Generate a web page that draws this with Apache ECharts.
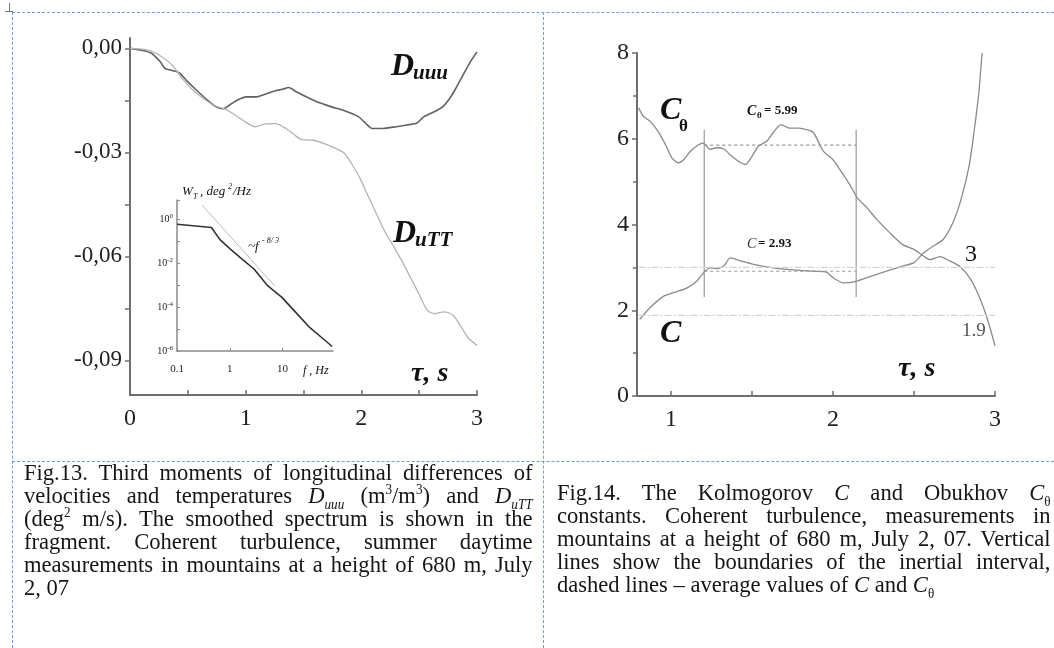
<!DOCTYPE html>
<html>
<head>
<meta charset="utf-8">
<script src="https://cdn.jsdelivr.net/npm/echarts@6.0.0/dist/echarts.min.js"></script>
<style>
  body { margin: 0; background: #fff; }
  #main { position: absolute; left: 0; top: 0; width: 1054px; height: 648px; }
  .dash-h { position: absolute; height: 0; border-top: 1px dashed #6b9fdc; }
  .dash-v { position: absolute; width: 0; border-left: 1px dashed #6b9fdc; }
  .mark { position: absolute; background: #777; }
  .cap {
    position: absolute;
    font-family: "Liberation Serif", serif;
    font-size: 24px;
    line-height: 23px;
    color: #151515;
    transform: scaleX(0.94);
    transform-origin: 0 0;
  }
  .cap .ln { text-align: justify; text-align-last: justify; }
  .cap .last { text-align: left; text-align-last: left; }
  .cap sub, .cap sup { font-size: 14px; line-height: 0; }
</style>
</head>
<body>
<div id="main"></div>

<div class="dash-h" style="left:12px;top:12px;width:1042px"></div>
<div class="dash-v" style="left:12px;top:12px;height:636px"></div>
<div class="dash-v" style="left:543px;top:12px;height:636px"></div>
<div class="dash-h" style="left:12px;top:461px;width:1042px"></div>
<div class="mark" style="left:9px;top:3px;width:1px;height:9px"></div>
<div class="mark" style="left:5px;top:11px;width:8px;height:1px"></div>

<div class="cap" style="left:24px;top:461px;width:541px">
  <div class="ln">Fig.13. Third moments of longitudinal differences of</div>
  <div class="ln">velocities and temperatures <i>D<sub>uuu</sub></i> (m<sup>3</sup>/m<sup>3</sup>) and <i>D<sub>uTT</sub></i></div>
  <div class="ln">(deg<sup>2</sup> m/s). The smoothed spectrum is shown in the</div>
  <div class="ln">fragment. Coherent turbulence, summer daytime</div>
  <div class="ln">measurements in mountains at a height of 680 m, July</div>
  <div class="ln last">2, 07</div>
</div>

<div class="cap" style="left:557px;top:481px;width:525px">
  <div class="ln">Fig.14. The Kolmogorov <i>C</i> and Obukhov <i>C</i><sub>θ</sub></div>
  <div class="ln">constants. Coherent turbulence, measurements in</div>
  <div class="ln">mountains at a height of 680 m, July 2, 07. Vertical</div>
  <div class="ln">lines show the boundaries of the inertial interval,</div>
  <div class="ln last">dashed lines – average values of <i>C</i> and <i>C</i><sub>θ</sub></div>
</div>

<script>
// Fig.13 — third moments vs tau
const tauUuu = [0, 0.095, 0.185, 0.26, 0.304, 0.364, 0.424, 0.498, 0.573, 0.662, 0.737, 0.805, 0.871, 0.93, 1.005, 1.095, 1.169, 1.259, 1.318, 1.372, 1.437, 1.527, 1.616, 1.736, 1.855, 1.974, 2.034, 2.094, 2.183, 2.302, 2.392, 2.481, 2.541, 2.63, 2.705, 2.765, 2.824, 2.884, 2.944, 3.0];
const dUuu = [0, -0.0005, -0.0014, -0.0038, -0.0058, -0.0064, -0.007, -0.0096, -0.012, -0.0147, -0.0167, -0.0174, -0.0161, -0.0149, -0.014, -0.014, -0.0132, -0.0122, -0.0118, -0.0113, -0.0125, -0.014, -0.0154, -0.0168, -0.018, -0.0197, -0.0215, -0.0231, -0.0231, -0.0226, -0.0221, -0.0215, -0.0197, -0.0183, -0.0168, -0.0144, -0.0111, -0.0074, -0.0038, -0.001];
const tauUtt = [0, 0.125, 0.2, 0.274, 0.364, 0.453, 0.543, 0.632, 0.722, 0.841, 0.93, 1.02, 1.08, 1.169, 1.259, 1.348, 1.423, 1.482, 1.587, 1.691, 1.78, 1.855, 1.915, 1.989, 2.049, 2.123, 2.198, 2.273, 2.347, 2.422, 2.496, 2.571, 2.63, 2.72, 2.794, 2.854, 2.929, 3.0];
const dUtt = [0, -0.0003, -0.001, -0.0024, -0.0048, -0.0087, -0.012, -0.0144, -0.0164, -0.0178, -0.0197, -0.0217, -0.0226, -0.0218, -0.0217, -0.0231, -0.025, -0.0263, -0.0265, -0.0276, -0.0289, -0.0303, -0.0332, -0.0375, -0.0419, -0.0472, -0.0525, -0.0568, -0.0611, -0.0659, -0.0707, -0.0756, -0.0765, -0.076, -0.077, -0.0799, -0.0837, -0.0857];
const leftYTicks = [0, -0.03, -0.06, -0.09];
const leftYMinor = [0, -0.015, -0.03, -0.045, -0.06, -0.075, -0.09];
const leftXTicks = [0, 1, 2, 3];
const leftXMinor = [0, 0.5, 1, 1.5, 2, 2.5, 3];

// inset — smoothed temperature spectrum
const specF = [0.1, 0.45, 0.65, 1.0, 1.58, 2.9, 5.2, 6.5, 9.6, 17.4, 31.6, 57, 87];
const specW = [0.58, 0.41, 0.115, 0.045, 0.0174, 0.0052, 0.00093, 0.0006, 0.00028, 0.00006, 0.0000126, 0.0000038, 0.0000016];
const slopeF = [0.3, 7.1];
const slopeW = [4.2, 0.0009];

// Fig.14 — Kolmogorov and Obukhov constants
const tauCt = [0.8, 0.83, 0.87, 0.92, 0.97, 1.006, 1.047, 1.078, 1.12, 1.17, 1.2, 1.24, 1.28, 1.325, 1.376, 1.43, 1.46, 1.5, 1.54, 1.59, 1.63, 1.68, 1.73, 1.79, 1.84, 1.88, 1.94, 2.0, 2.05, 2.11, 2.15, 2.21, 2.27, 2.35, 2.43, 2.5, 2.56, 2.6, 2.66, 2.72, 2.78, 2.85, 2.91, 2.96, 3.0];
const cTheta = [6.72, 6.52, 6.41, 6.17, 5.83, 5.55, 5.44, 5.51, 5.71, 5.86, 5.9, 5.75, 5.79, 5.76, 5.59, 5.44, 5.4, 5.59, 5.83, 5.94, 6.14, 6.33, 6.25, 6.25, 6.21, 6.14, 5.71, 5.51, 5.24, 4.89, 4.62, 4.39, 4.12, 3.81, 3.53, 3.42, 3.26, 3.18, 3.25, 3.15, 3.03, 2.72, 2.25, 1.71, 1.17];
const tauC = [0.807, 0.87, 0.955, 1.016, 1.1, 1.16, 1.2, 1.24, 1.28, 1.325, 1.366, 1.43, 1.51, 1.63, 1.76, 1.88, 1.96, 2.0, 2.065, 2.13, 2.21, 2.33, 2.43, 2.5, 2.56, 2.62, 2.68, 2.74, 2.79, 2.84, 2.87, 2.9, 2.92];
const cKol = [1.79, 2.06, 2.33, 2.41, 2.52, 2.68, 2.87, 2.99, 2.97, 3.03, 3.22, 3.15, 3.07, 2.99, 2.94, 2.91, 2.89, 2.76, 2.64, 2.66, 2.76, 2.91, 3.03, 3.11, 3.34, 3.5, 3.65, 4.04, 4.58, 5.36, 6.14, 7.07, 8.0];
const boundTau = [1.205, 2.143];        // inertial interval
const boundSpan = [2.31, 6.21];
const meanLevels = [5.85, 2.91];         // drawn averages C_theta, C
const refLevels = [3.0, 1.88];
const refSpan = [0.8, 3.0];
const rightXTicks = [1, 2, 3];
const rightXMinor = [1, 1.5, 2, 2.5, 3];

const zip = (xs, ys) => xs.map((x, i) => [x, ys[i]]);
const serif = '"Liberation Serif", "Times New Roman", serif';
const axisGray = '#6e6e6e';

function mainAxis(extra) {
    return Object.assign({
        axisLine: { onZero: false, lineStyle: { color: axisGray, width: 2 } },
        axisTick: { lineStyle: { color: axisGray, width: 1.5 }, length: 5 },
        splitLine: { show: false },
        axisLabel: { color: '#222', fontFamily: serif, fontSize: 24 }
    }, extra);
}

function txt(x, y, text, font, color) {
    return {
        type: 'text', x: x, y: y, z: 100,
        style: { text: text, font: font, fill: color || '#111', verticalAlign: 'middle' }
    };
}

const chart = echarts.init(document.getElementById('main'), null, { renderer: 'canvas' });

const option = {
    animation: false,
    grid: [
        { left: 130, top: 38, width: 347, height: 357 },
        { left: 177, top: 200, width: 156, height: 151 },
        { left: 637, top: 53, width: 358, height: 343 }
    ],
    xAxis: [
        mainAxis({
            gridIndex: 0, type: 'value', min: 0, max: 3,
            axisTick: { inside: true, length: 5, lineStyle: { color: axisGray, width: 1.5 }, customValues: leftXMinor },
            axisLabel: { color: '#222', fontFamily: serif, fontSize: 24, margin: 12, customValues: leftXTicks }
        }),
        {
            gridIndex: 1, type: 'log', min: 0.1, max: 90, logBase: 10,
            axisLine: { onZero: false, lineStyle: { color: '#8a8a8a', width: 1.5 } },
            axisTick: { inside: true, length: 3, lineStyle: { color: '#8a8a8a' } },
            splitLine: { show: false },
            axisLabel: {
                showMaxLabel: false, fontFamily: serif, fontSize: 11, color: '#222', margin: 13,
                formatter: v => (v < 0.5 ? '0.1' : String(Math.round(v)))
            }
        },
        mainAxis({
            gridIndex: 2, type: 'value', min: 0.79, max: 3,
            axisTick: { inside: true, length: 5, lineStyle: { color: axisGray, width: 1.5 }, customValues: rightXMinor },
            axisLabel: { color: '#222', fontFamily: serif, fontSize: 24, margin: 12, customValues: rightXTicks }
        })
    ],
    yAxis: [
        mainAxis({
            gridIndex: 0, type: 'value', min: -0.1, max: 0.003,
            axisTick: { length: 5, lineStyle: { color: axisGray, width: 1.5 }, customValues: leftYMinor },
            axisLabel: {
                color: '#222', fontFamily: serif, fontSize: 23, margin: 8, customValues: leftYTicks,
                formatter: v => v.toFixed(2).replace('.', ',')
            }
        }),
        {
            gridIndex: 1, type: 'log', min: 0.000001, max: 7.3, logBase: 10,
            axisLine: { onZero: false, lineStyle: { color: '#8a8a8a', width: 1.5 } },
            axisTick: { inside: true, length: 3, lineStyle: { color: '#8a8a8a' } },
            splitLine: { show: false },
            axisLabel: {
                fontFamily: serif, color: '#222', margin: 4,
                formatter: v => {
                    const e = Math.log10(v);
                    const r = Math.round(e);
                    if (Math.abs(e - r) > 0.01 || r % 2 !== 0 || r > 0) return '';
                    return '{b|10}{s|' + r + '}';
                },
                rich: {
                    b: { fontFamily: serif, fontSize: 10, color: '#222' },
                    s: { fontFamily: serif, fontSize: 7, color: '#222', verticalAlign: 'top', padding: [0, 0, 6, 0] }
                }
            }
        },
        mainAxis({
            gridIndex: 2, type: 'value', min: 0, max: 8, interval: 2,
            axisTick: { length: 5, lineStyle: { color: axisGray, width: 1.5 } },
            minorTick: { show: true, splitNumber: 2, length: 4, lineStyle: { color: axisGray, width: 1.5 } },
            axisLabel: { color: '#222', fontFamily: serif, fontSize: 24, margin: 8 }
        })
    ],
    series: [
        {
            name: 'D_uuu', type: 'line', xAxisIndex: 0, yAxisIndex: 0,
            data: zip(tauUuu, dUuu), showSymbol: false, smooth: 0.25,
            lineStyle: { color: '#626262', width: 1.6 }
        },
        {
            name: 'D_uTT', type: 'line', xAxisIndex: 0, yAxisIndex: 0,
            data: zip(tauUtt, dUtt), showSymbol: false, smooth: 0.25,
            lineStyle: { color: '#b4b4b4', width: 1.3 }
        },
        {
            name: 'spectrum', type: 'line', xAxisIndex: 1, yAxisIndex: 1,
            data: zip(specF, specW), showSymbol: false,
            lineStyle: { color: '#333', width: 1.6 }
        },
        {
            name: 'f^-8/3', type: 'line', xAxisIndex: 1, yAxisIndex: 1,
            data: zip(slopeF, slopeW), showSymbol: false,
            lineStyle: { color: '#bbb', width: 1 }
        },
        {
            name: 'C_theta', type: 'line', xAxisIndex: 2, yAxisIndex: 2,
            data: zip(tauCt, cTheta), showSymbol: false, smooth: 0.25,
            lineStyle: { color: '#8a8a8a', width: 1.3 }
        },
        {
            name: 'C', type: 'line', xAxisIndex: 2, yAxisIndex: 2,
            data: zip(tauC, cKol), showSymbol: false, smooth: 0.25,
            lineStyle: { color: '#8a8a8a', width: 1.3 }
        },
        ...boundTau.map((t, i) => ({
            name: 'bound' + i, type: 'line', xAxisIndex: 2, yAxisIndex: 2,
            data: boundSpan.map(v => [t, v]), showSymbol: false,
            lineStyle: { color: '#9a9a9a', width: 1.2 }
        })),
        ...meanLevels.map((m, i) => ({
            name: 'mean' + i, type: 'line', xAxisIndex: 2, yAxisIndex: 2,
            data: boundTau.map(t => [t, m]), showSymbol: false,
            lineStyle: { color: '#999', width: 1.2, type: [3, 3] }
        })),
        ...refLevels.map((m, i) => ({
            name: 'ref' + i, type: 'line', xAxisIndex: 2, yAxisIndex: 2,
            data: refSpan.map(t => [t, m]), showSymbol: false,
            lineStyle: { color: '#d4d4d4', width: 1.2, type: [7, 2, 2, 2] }
        }))
    ],
    graphic: [
        // Fig.13 labels
        txt(391, 67, 'D', 'bold italic 32px ' + serif),
        txt(413, 74, 'uuu', 'bold italic 21px ' + serif),
        txt(393, 234, 'D', 'bold italic 32px ' + serif),
        txt(415, 241, 'uTT', 'bold italic 21px ' + serif),
        txt(411, 374, 'τ, s', 'bold italic 28px ' + serif),
        txt(182, 192, 'W', 'italic 13px ' + serif),
        txt(193, 197, 'T', 'italic 8px ' + serif),
        txt(200, 192, ', deg', 'italic 13px ' + serif),
        txt(228, 187, '2', 'italic 8px ' + serif),
        txt(233, 192, '/Hz', 'italic 13px ' + serif),
        txt(248, 247, '~f', 'italic 13px ' + serif),
        txt(262, 241, '- 8/ 3', 'italic 8px ' + serif),
        txt(303, 371, 'f , Hz', 'italic 12px ' + serif),
        // Fig.14 labels
        txt(660, 111, 'C', 'bold italic 32px ' + serif),
        txt(679, 127, 'θ', 'bold 17px ' + serif),
        txt(660, 334, 'C', 'bold italic 32px ' + serif),
        txt(747, 111, 'C', 'bold italic 14px ' + serif),
        txt(757, 116, 'θ', 'bold 9px ' + serif),
        txt(764, 111, '= 5.99', 'bold 13px ' + serif),
        txt(747, 244, 'C', 'italic 14px ' + serif, '#333'),
        txt(758, 244, '= 2.93', 'bold 13px ' + serif),
        txt(965, 255, '3', '24px ' + serif),
        txt(962, 331, '1.9', '19px ' + serif, '#555'),
        txt(898, 369, 'τ, s', 'bold italic 28px ' + serif)
    ]
};

chart.setOption(option);
</script>
</body>
</html>
